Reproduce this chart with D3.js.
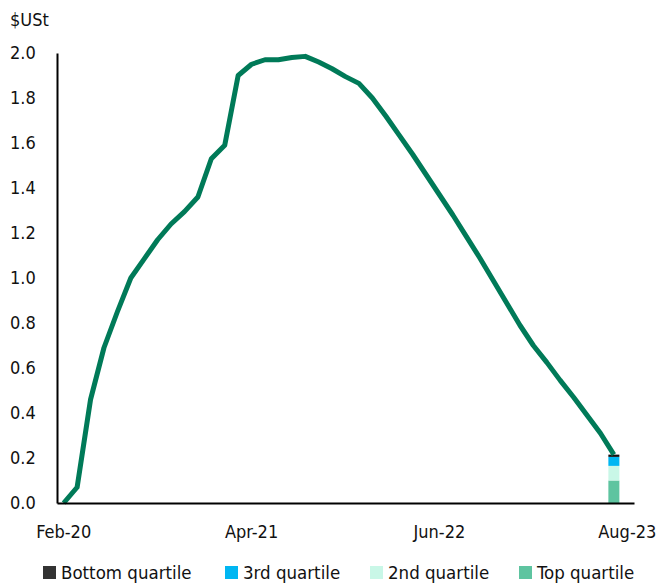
<!DOCTYPE html>
<html>
<head>
<meta charset="utf-8">
<script src="https://cdn.jsdelivr.net/npm/d3@7"></script>
<style>
  html, body { margin: 0; padding: 0; background: #fff; }
  svg text { font-family: "Liberation Sans Narrow", "DejaVu Sans Condensed", "Roboto", sans-serif; fill: #111; }
</style>
</head>
<body>
<svg id="chart" width="661" height="586"></svg>
<script>
// Monthly categories, Feb-20 through Aug-23
const months = [
  "Feb-20","Mar-20","Apr-20","May-20","Jun-20","Jul-20","Aug-20","Sep-20","Oct-20","Nov-20","Dec-20",
  "Jan-21","Feb-21","Mar-21","Apr-21","May-21","Jun-21","Jul-21","Aug-21","Sep-21","Oct-21","Nov-21","Dec-21",
  "Jan-22","Feb-22","Mar-22","Apr-22","May-22","Jun-22","Jul-22","Aug-22","Sep-22","Oct-22","Nov-22","Dec-22",
  "Jan-23","Feb-23","Mar-23","Apr-23","May-23","Jun-23","Jul-23","Aug-23"
];

// Cumulative amount, $US trillion (Feb-20 .. Jul-23)
const lineValues = [
  0.00, 0.07, 0.46, 0.69, 0.85, 1.00, 1.085, 1.17, 1.24, 1.295, 1.36,
  1.53, 1.59, 1.90, 1.95, 1.97, 1.97, 1.98, 1.985, 1.96, 1.93, 1.895, 1.865,
  1.80, 1.72, 1.635, 1.55, 1.46, 1.37, 1.28, 1.185, 1.09, 0.99, 0.89, 0.79,
  0.70, 0.625, 0.545, 0.47, 0.39, 0.31, 0.215
];

// Latest month split by quartile (stacked from the bottom up)
const barMonth = "Jul-23";
const quartileNames = ["Top quartile", "2nd quartile", "3rd quartile", "Bottom quartile"];
const quartileValues = [0.10, 0.065, 0.04, 0.01];
const quartileColors = ["#5EC4A0", "#C9F7E7", "#00B6F2", "#111111"];

// Legend order as displayed
const legendNames = ["Bottom quartile", "3rd quartile", "2nd quartile", "Top quartile"];
const legendColors = ["#333333", "#00B6F2", "#C9F7E7", "#5EC4A0"];

const xTickLabels = ["Feb-20", "Apr-21", "Jun-22", "Aug-23"];
const yTicks = [0, 0.2, 0.4, 0.6, 0.8, 1.0, 1.2, 1.4, 1.6, 1.8, 2.0];

const svg = d3.select("#chart");
const plotLeft = 57, plotRight = 634, plotTop = 53, plotBottom = 503;

const x = d3.scaleBand().domain(months).range([plotLeft, plotRight]).padding(0);
const y = d3.scaleLinear().domain([0, 2]).range([plotBottom, plotTop]);
const cx = m => x(m) + x.bandwidth() / 2;

// Stacked quartile bar
const stackData = [Object.fromEntries(quartileNames.map((n, i) => [n, quartileValues[i]]))];
const series = d3.stack().keys(quartileNames)(stackData);
const barW = 11;
svg.append("g").selectAll("rect")
  .data(series)
  .join("rect")
  .attr("x", cx(barMonth) - barW / 2)
  .attr("width", barW)
  .attr("y", d => y(d[0][1]))
  .attr("height", d => y(d[0][0]) - y(d[0][1]))
  .attr("fill", (d, i) => quartileColors[i]);

// Line
const lineData = lineValues.map((v, i) => ({ m: months[i], v }));
svg.append("path")
  .datum(lineData)
  .attr("fill", "none")
  .attr("stroke", "#007A58")
  .attr("stroke-width", 5)
  .attr("stroke-linejoin", "round")
  .attr("d", d3.line().x(d => cx(d.m)).y(d => y(d.v)));

// Axes
const yAxis = svg.append("g")
  .attr("transform", `translate(${plotLeft},0)`)
  .call(d3.axisLeft(y).tickValues(yTicks).tickFormat(d3.format(".1f")).tickSize(0).tickPadding(22));
yAxis.select(".domain").attr("stroke", "#000").attr("stroke-width", 2);
yAxis.selectAll("text").attr("font-size", 18).attr("text-anchor", "start").attr("x", -47);

const xAxis = svg.append("g")
  .attr("transform", `translate(0,${plotBottom})`)
  .call(d3.axisBottom(x).tickValues(xTickLabels).tickSize(0).tickPadding(22));
xAxis.select(".domain").attr("stroke", "#000").attr("stroke-width", 2);
xAxis.selectAll("text").attr("font-size", 18);

// Unit label
svg.append("text").attr("x", 10).attr("y", 26).attr("font-size", 18).text("$USt");

// Legend
const legendX = [43, 225, 370, 519];
const lg = svg.append("g").selectAll("g")
  .data(legendNames)
  .join("g")
  .attr("transform", (d, i) => `translate(${legendX[i]},566)`);
lg.append("rect").attr("width", 13).attr("height", 13).attr("fill", (d, i) => legendColors[i]);
lg.append("text").attr("x", 18).attr("y", 13).attr("font-size", 18.5).text(d => d);
</script>
</body>
</html>
